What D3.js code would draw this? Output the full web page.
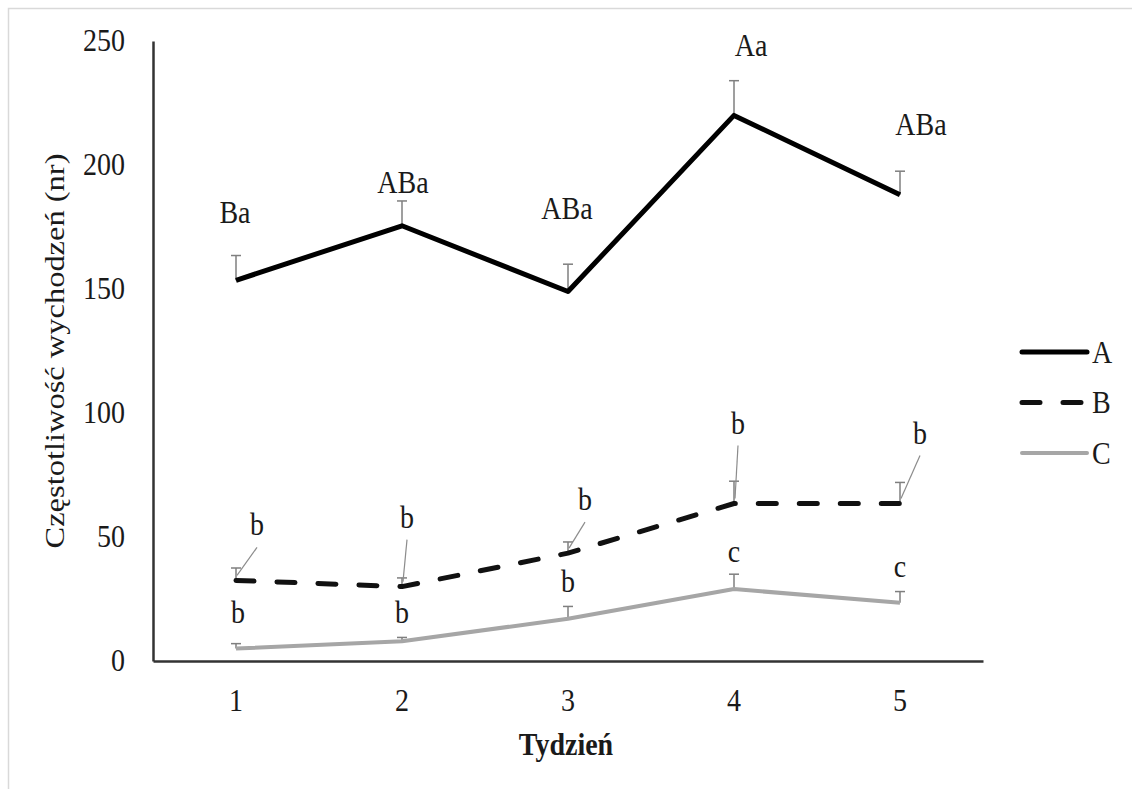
<!DOCTYPE html>
<html>
<head>
<meta charset="utf-8">
<script src="https://cdn.jsdelivr.net/npm/d3@7"></script>
<style>
  html, body { margin: 0; padding: 0; background: #fff; }
  svg { display: block; }
  text { font-family: "Liberation Serif", "Times New Roman", serif; fill: #1a1a1a; }
</style>
</head>
<body>
<script>
// Weekly frequency of exits for three groups, with upward error bars
const weeks = ["1", "2", "3", "4", "5"];
const yTicks = [0, 50, 100, 150, 200, 250];

const seriesA = [153.5, 175.5, 149, 220, 188];
const errA    = [10, 10, 11, 14, 9.5];
const seriesB = [32.5, 30, 43.5, 63.5, 63.5];
const errB    = [5, 3.5, 4.5, 9, 8.5];
const seriesC = [5, 8, 17, 29, 23.5];
const errC    = [2, 1.5, 5, 6, 4.5];

// significance letters
const lettersA = ["Ba", "ABa", "ABa", "Aa", "ABa"];
const lettersB = ["b", "b", "b", "b", "b"];
const lettersC = ["b", "b", "b", "c", "c"];

const seriesNames = ["A", "B", "C"];

// label placement (pixel nudges from each point)
const nudgeA = [[-1, -57], [1, -33], [-1, -72], [17, -59], [21, -60]];
const nudgeB = [[21, -45], [5, -59], [17, -43], [4, -70], [20, -60]];
const nudgeC = [[2, -26], [0, -18], [0, -27], [0, -27], [0, -26]];

const W = 1132, H = 789;
const FS = 28, STRETCH = 1.16;

const svg = d3.select("body").append("svg")
  .attr("width", W).attr("height", H);

// frame
svg.append("rect")
  .attr("x", 8.5).attr("y", 8.5).attr("width", W + 20).attr("height", H + 20)
  .attr("fill", "none").attr("stroke", "#d9d9d9").attr("stroke-width", 1.5);

const x = d3.scalePoint().domain(weeks).range([153, 983]).padding(0.5);
const y = d3.scaleLinear().domain([0, 250]).range([661, 41]);

// text drawn with a slight vertical stretch
function label(parent, px, py, str, opts = {}) {
  const g = parent.append("g")
    .attr("transform", opts.rotate
      ? `translate(${px},${py}) rotate(-90) scale(${STRETCH},1)`
      : `translate(${px},${py}) scale(1,${STRETCH})`);
  const t = g.append("text")
    .attr("x", 0).attr("y", 0)
    .attr("text-anchor", opts.anchor || "middle")
    .style("font-size", (opts.size || FS) + "px")
    .text(str);
  if (opts.bold) t.style("font-weight", "bold");
  return t;
}

// axes
const yAxis = d3.axisLeft(y).tickValues(yTicks).tickSize(0).tickFormat("");
const gy = svg.append("g").attr("transform", `translate(${x.range()[0]},0)`).call(yAxis);
gy.select(".domain").attr("stroke", "#333").attr("stroke-width", 2.5);

const xAxis = d3.axisBottom(x).tickSize(0).tickFormat("");
const gx = svg.append("g").attr("transform", `translate(0,${y(0)})`).call(xAxis);
gx.select(".domain").attr("stroke", "#333").attr("stroke-width", 2.5);

yTicks.forEach(v => label(svg, 125, y(v) + 10, String(v), { anchor: "end" }));
weeks.forEach(w => label(svg, x(w), 711, w));

label(svg, 566, 755, "Tydzień", { bold: true });
label(svg, 64, 351, "Częstotliwość wychodzeń (nr)", { rotate: true });

// series definitions
const series = [
  { name: seriesNames[0], vals: seriesA, err: errA, letters: lettersA, nudge: nudgeA,
    color: "#000", width: 5, dash: null },
  { name: seriesNames[1], vals: seriesB, err: errB, letters: lettersB, nudge: nudgeB,
    color: "#111", width: 5, dash: "18,23", leader: true },
  { name: seriesNames[2], vals: seriesC, err: errC, letters: lettersC, nudge: nudgeC,
    color: "#a6a6a6", width: 4, dash: null }
];

// error bars (upper only)
const errG = svg.append("g");
series.forEach(s => {
  weeks.forEach((w, i) => {
    const cx = x(w), y0 = y(s.vals[i]), y1 = y(s.vals[i] + s.err[i]);
    errG.append("line").attr("x1", cx).attr("x2", cx).attr("y1", y0).attr("y2", y1)
      .attr("stroke", "#7f7f7f").attr("stroke-width", 1.5);
    errG.append("line").attr("x1", cx - 5).attr("x2", cx + 5).attr("y1", y1).attr("y2", y1)
      .attr("stroke", "#7f7f7f").attr("stroke-width", 1.5);
  });
});

// lines
const line = d3.line().x((d, i) => x(weeks[i])).y(d => y(d));
series.forEach(s => {
  const p = svg.append("path").datum(s.vals)
    .attr("d", line)
    .attr("fill", "none")
    .attr("stroke", s.color)
    .attr("stroke-width", s.width)
    .attr("stroke-linejoin", "round");
  if (s.dash) p.attr("stroke-dasharray", s.dash).attr("stroke-linecap", "round");
});

// letters and leader lines
series.forEach(s => {
  weeks.forEach((w, i) => {
    const px = x(w), py = y(s.vals[i]);
    const lx = px + s.nudge[i][0], ly = py + s.nudge[i][1];
    label(svg, lx, ly, s.letters[i]);
    if (s.leader) {
      svg.append("line")
        .attr("x1", lx).attr("y1", ly + 12)
        .attr("x2", px + 1).attr("y2", py - 5)
        .attr("stroke", "#8c8c8c").attr("stroke-width", 1.2);
    }
  });
});

// legend
const legY = d3.scalePoint().domain(seriesNames).range([352, 453]);
series.forEach(s => {
  const ly = legY(s.name);
  const l = svg.append("line")
    .attr("x1", 1022).attr("x2", 1087).attr("y1", ly).attr("y2", ly)
    .attr("stroke", s.color).attr("stroke-width", s.width);
  if (s.dash) l.attr("stroke-dasharray", "18,23").attr("stroke-linecap", "round");
  else l.attr("stroke-linecap", "round");
  label(svg, 1092, ly + 10.5, s.name, { anchor: "start" });
});
</script>
</body>
</html>
